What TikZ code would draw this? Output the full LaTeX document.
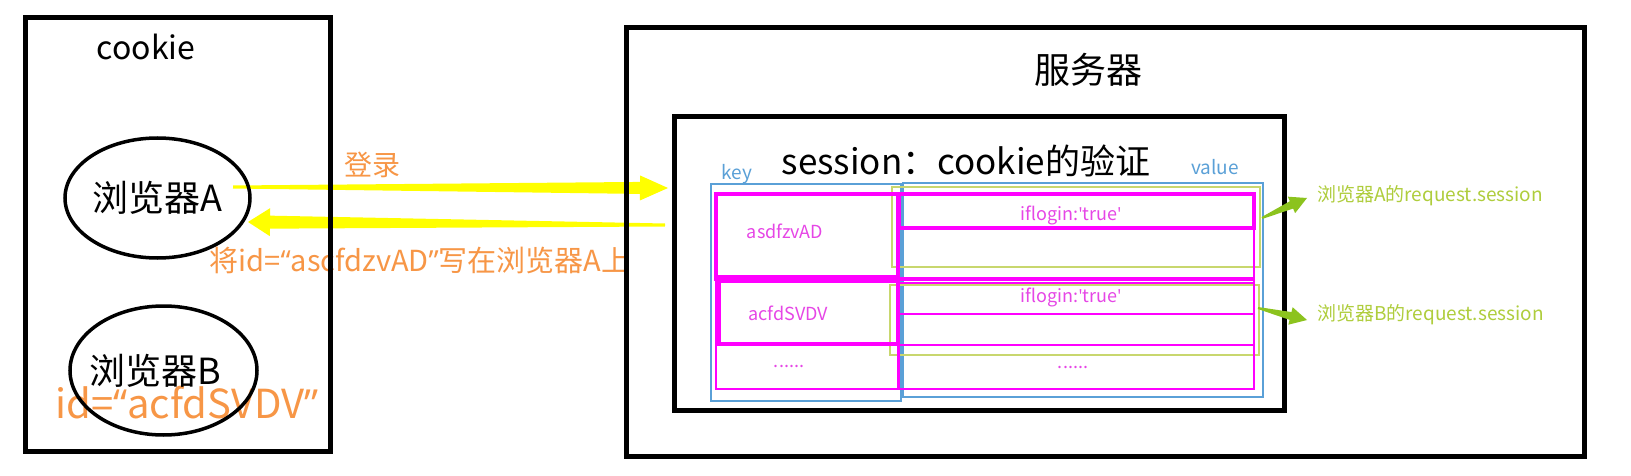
\documentclass[tikz,border=0pt]{standalone}
\usepackage{fontspec}
\setmainfont{Noto Sans CJK SC}
\newfontfamily\qf{Open Sans}
\usetikzlibrary{calc,shapes.geometric}
\definecolor{orangeT}{RGB}{247,150,70}
\definecolor{yel}{RGB}{255,255,0}
\definecolor{grn}{RGB}{140,195,30}
\definecolor{grnT}{RGB}{175,205,60}
\definecolor{blueL}{RGB}{90,160,215}
\definecolor{oliveL}{RGB}{200,215,110}
\definecolor{mag}{RGB}{255,0,255}
\definecolor{magT}{RGB}{230,70,230}
\newcommand\fs[1]{\fontsize{#1}{#1}\selectfont}
\newcommand\sq{{\qf\char"27}}
\newcommand\taper[7]{%
  \coordinate (tb) at ($(#3)!#6!(#2)$);
  \fill[#1] ($(#2)!#4!90:(#3)$) -- ($(tb)!#5!90:(#3)$) -- ($(tb)!#7!90:(#3)$) -- (#3)
    -- ($(tb)!#7!-90:(#3)$) -- ($(tb)!#5!-90:(#3)$) -- ($(#2)!#4!-90:(#3)$) -- cycle;
}
\begin{document}
\begin{tikzpicture}[x=1pt,y=-1pt,
  box/.style={draw=black,line width=5pt,inner sep=0pt,minimum width=#1},
  ell/.style={draw=black,line width=3.5pt,ellipse,inner sep=0pt},
  txt/.style={inner sep=0pt,anchor=center},
  magthin/.style={draw=mag,line width=1.5pt},
  magthick/.style={draw=mag,line width=3.5pt},
  bluethin/.style={draw=blueL,line width=1.2pt},
  olivethin/.style={draw=oliveL,line width=1.2pt}]
\useasboundingbox[fill=white] (0,0) rectangle (1631,476);

% ---- arrows (drawn below boxes)
\coordinate (loginS) at (233,187);
\coordinate (loginE) at (668,188);
\coordinate (backS) at (665,225);
\coordinate (backE) at (248,222);
\taper{yel}{loginS}{loginE}{1.5pt}{6pt}{28pt}{12.5pt}
\taper{yel}{backS}{backE}{1.5pt}{6.5pt}{22pt}{14pt}

% ---- orange texts
\node[txt,text=orangeT] (login) at (372,165) {\fs{28}登录};
\node[txt,text=orangeT] (write) at (420,260) {\fs{29}将id={\qf “}ascfdzvAD{\qf ”}写在浏览器A上};
\node[txt,text=orangeT] (idB) at (187,403) {\fs{40}id={\qf “}acfdSVDV{\qf ”}};

% ---- left box
\node[box=305pt,minimum height=434pt] (cookiebox) at (178,234.5) {};
\node[txt] (cookie) at (146,47) {\fs{32}cookie};
\node[ell,minimum width=185pt,minimum height=120pt] (ellA) at (157.5,198) {};
\node[txt] (txtA) at (157,198) {\fs{36}浏览器A};
\node[ell,minimum width=187pt,minimum height=129pt] (ellB) at (163.5,370.5) {};
\node[txt] (txtB) at (155,371) {\fs{36}浏览器B};

% ---- server box
\node[box=958pt,minimum height=429pt] (server) at (1105.5,242) {};
\node[txt] (serverT) at (1088,70) {\fs{36}服务器};
\node[box=610pt,minimum height=294pt] (session) at (979.5,263.5) {};
\node[txt] (sessionT) at (966,161) {\fs{35}session：cookie的验证};
\node[txt,text=blueL] (keyT) at (737,174) {\fs{19}key};
\node[txt,text=blueL] (valueT) at (1215,167) {\fs{19}value};

% ---- table
\node[bluethin,inner sep=0pt,minimum width=190pt,minimum height=217pt] (keycol) at (806,292.5) {};
\node[bluethin,inner sep=0pt,minimum width=360pt,minimum height=214pt] (valcol) at (1083,290) {};
\node[olivethin,inner sep=0pt,minimum width=368pt,minimum height=80pt] (ol1) at (1076,227) {};
\node[olivethin,inner sep=0pt,minimum width=369pt,minimum height=70pt] (ol2) at (1074.5,320) {};

\node[magthin,inner sep=0pt,minimum width=182pt,minimum height=195pt] (kcol) at (807,291.5) {};
\node[magthin,inner sep=0pt,minimum width=355pt,minimum height=195pt] (vcol) at (1076.5,291.5) {};
\node[magthick,inner sep=0pt,minimum width=182pt,minimum height=83pt] (k1) at (807,235.5) {};
\node[magthick,inner sep=0pt,minimum width=179pt,minimum height=63pt] (k2) at (808.5,312.5) {};
\node[magthick,inner sep=0pt,minimum width=355pt,minimum height=34pt] (v1) at (1076.5,211) {};
\draw[magthick] (k1.south west) -- (k1.south west -| vcol.east);
\draw[magthin] (vcol.west |- 0,283) -- (vcol.east |- 0,283);
\draw[magthin] (vcol.west |- 0,314) -- (vcol.east |- 0,314);
\draw[draw=mag,line width=2.5pt] (vcol.west |- 0,345) -- (vcol.east |- 0,345);

\node[txt,text=magT] (kA) at (785,231) {\fs{18}asdfzvAD};
\node[txt,text=magT] (kB) at (788,313) {\fs{18}acfdSVDV};
\node[txt,text=magT] (kC) at (789,366) {\fs{18}......};
\node[txt,text=magT] (vA) at (1071,215) {\fs{18}iflogin:\sq true\sq};
\node[txt,text=magT] (vB) at (1071,297) {\fs{18}iflogin:\sq true\sq};
\node[txt,text=magT] (vC) at (1073,367) {\fs{18}......};

% ---- green arrows and labels
\node[txt,anchor=west,text=grnT] (reqA) at (1317,196) {\fs{19}浏览器A的request.session};
\node[txt,anchor=west,text=grnT] (reqB) at (1317,315) {\fs{19}浏览器B的request.session};
\coordinate (gA) at (1262,218);
\coordinate (gAe) at (1307,198);
\coordinate (gB) at (1258,308);
\coordinate (gBe) at (1307,320);
\taper{grn}{gA}{gAe}{1pt}{4pt}{17pt}{9pt}
\taper{grn}{gB}{gBe}{1pt}{4pt}{17pt}{9pt}
\end{tikzpicture}
\end{document}
